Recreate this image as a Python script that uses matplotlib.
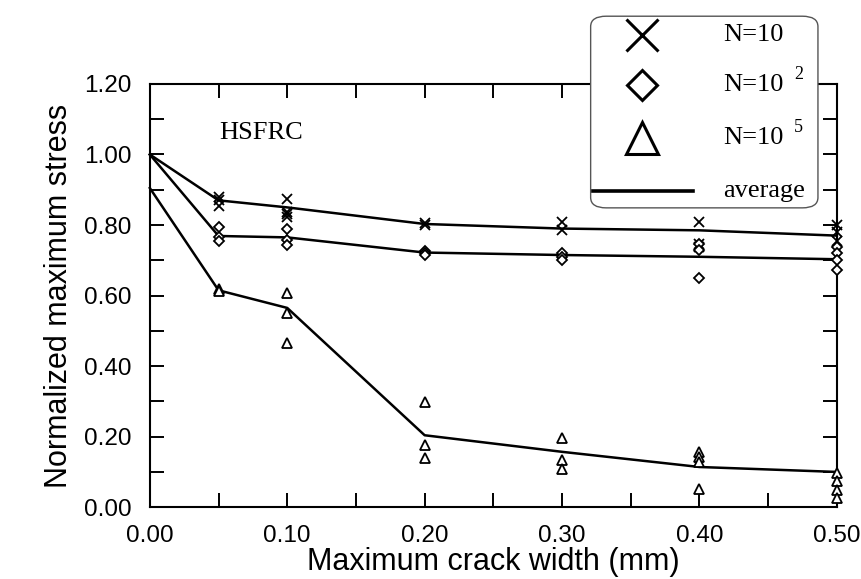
"""Normalized maximum stress vs. maximum crack width for HSFRC."""
import matplotlib
matplotlib.use("Agg")
import matplotlib.pyplot as plt
from matplotlib.lines import Line2D
from matplotlib.patches import FancyBboxPatch

plt.rcParams["font.family"] = ["Liberation Sans", "DejaVu Sans"]

# crack widths used for the average curves (mm)
avg_w = [0.00, 0.05, 0.10, 0.20, 0.30, 0.40, 0.50]
avg_n10 = [1.00, 0.870, 0.850, 0.803, 0.790, 0.785, 0.770]
avg_n100 = [1.00, 0.769, 0.765, 0.722, 0.715, 0.710, 0.703]
avg_n1e5 = [0.905, 0.615, 0.565, 0.204, 0.157, 0.114, 0.100]

# individual test results, N = 10
n10_w = [0.05, 0.05, 0.05, 0.10, 0.10, 0.10, 0.10, 0.20, 0.20,
         0.30, 0.30, 0.40, 0.40, 0.40, 0.50, 0.50, 0.50]
n10_s = [0.880, 0.870, 0.855, 0.873, 0.838, 0.830, 0.822, 0.805, 0.800,
         0.810, 0.785, 0.810, 0.745, 0.738, 0.800, 0.780, 0.755]

# N = 10^2
n100_w = [0.05, 0.05, 0.05, 0.10, 0.10, 0.10, 0.20, 0.20, 0.20,
          0.30, 0.30, 0.30, 0.40, 0.40, 0.40, 0.50, 0.50, 0.50, 0.50]
n100_s = [0.794, 0.766, 0.755, 0.790, 0.757, 0.743, 0.726, 0.720, 0.714,
          0.720, 0.710, 0.700, 0.745, 0.730, 0.650, 0.738, 0.720, 0.700, 0.672]

# N = 10^5
n1e5_w = [0.05, 0.05, 0.10, 0.10, 0.10, 0.20, 0.20, 0.20,
          0.30, 0.30, 0.30, 0.40, 0.40, 0.40, 0.40, 0.50, 0.50, 0.50, 0.50]
n1e5_s = [0.620, 0.612, 0.607, 0.551, 0.466, 0.299, 0.176, 0.139,
          0.196, 0.133, 0.108, 0.157, 0.143, 0.128, 0.052, 0.098, 0.075, 0.050, 0.026]

fig = plt.figure(figsize=(8.61, 5.79), dpi=100)
ax = fig.add_axes([0.174, 0.124, 0.798, 0.731])

for ys in (avg_n10, avg_n100, avg_n1e5):
    ax.plot(avg_w, ys, "-", color="black", lw=1.8, clip_on=False, zorder=3)

ax.plot(n10_w, n10_s, "x", ms=7, mew=1.3, color="black", clip_on=False, zorder=4)
ax.plot(n100_w, n100_s, "D", ms=4.6, mew=1.3, mfc="white", mec="black", clip_on=False, zorder=4)
ax.plot(n1e5_w, n1e5_s, "^", ms=7.5, mew=1.3, mfc="white", mec="black", clip_on=False, zorder=4)

ax.set_xlim(0, 0.5)
ax.set_ylim(0, 1.2)
ax.set_xticks([0.0, 0.1, 0.2, 0.3, 0.4, 0.5])
ax.set_xticks([0.05, 0.15, 0.25, 0.35, 0.45], minor=True)
ax.set_yticks([0.0, 0.2, 0.4, 0.6, 0.8, 1.0, 1.2])
ax.set_yticks([0.1, 0.3, 0.5, 0.7, 0.9, 1.1], minor=True)
ax.xaxis.set_major_formatter(lambda v, p: f"{v:.2f}")
ax.yaxis.set_major_formatter(lambda v, p: f"{v:.2f}")
ax.tick_params(which="both", direction="in", length=10, width=1.4,
               top=True, right=True, labelsize=17.5, color="black")
ax.tick_params(axis="x", which="major", pad=13)
ax.tick_params(axis="y", which="major", pad=13)
for s in ax.spines.values():
    s.set_linewidth(1.5)

ax.set_xlabel("Maximum crack width (mm)", fontsize=22, labelpad=0)
ax.set_ylabel("Normalized maximum stress", fontsize=22, labelpad=7)

ax.text(0.081, 1.06, "HSFRC", family="Liberation Serif", fontsize=19,
        ha="center", va="center")

# legend box drawn in figure coordinates, overlapping the top-right corner
box = FancyBboxPatch((0.686, 0.641), 0.264, 0.331,
                     boxstyle="round,pad=0.0,rounding_size=0.018",
                     transform=fig.transFigure, facecolor="white",
                     edgecolor="#555555", lw=1.0, zorder=10)
fig.add_artist(box)

mk_x = 0.746
txt_x = 0.840
rows = [0.940, 0.853, 0.762, 0.670]
fig.add_artist(Line2D([mk_x], [rows[0]], marker="x", ms=23, mew=2.2,
                      color="black", transform=fig.transFigure, zorder=11))
fig.add_artist(Line2D([mk_x], [rows[1]], marker="D", ms=15, mew=2.2, mfc="white",
                      mec="black", transform=fig.transFigure, zorder=11))
fig.add_artist(Line2D([mk_x], [rows[2]], marker="^", ms=23, mew=2.2, mfc="white",
                      mec="black", transform=fig.transFigure, zorder=11))
fig.add_artist(Line2D([0.689, 0.805], [rows[3], rows[3]], lw=2.6,
                      color="black", transform=fig.transFigure, zorder=11))

serif = dict(family="Liberation Serif", fontsize=19, va="center", ha="left",
             transform=fig.transFigure, zorder=12)
fig.text(txt_x, rows[0], "N=10", **serif)
fig.text(txt_x, rows[1], "N=10", **serif)
fig.text(txt_x, rows[2], "N=10", **serif)
fig.text(txt_x, rows[3], "average", **serif)
sup = dict(family="Liberation Serif", fontsize=13, va="center", ha="left",
           transform=fig.transFigure, zorder=12)
fig.text(0.922, rows[1] + 0.018, "2", **sup)
fig.text(0.922, rows[2] + 0.018, "5", **sup)

fig.savefig("out.png", dpi=100)
